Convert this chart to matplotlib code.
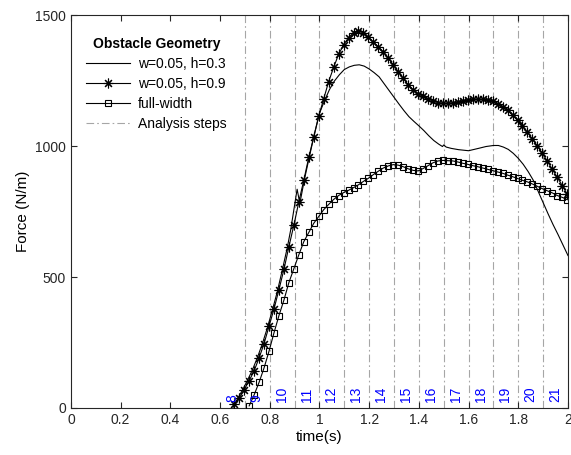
import numpy as np
import matplotlib
matplotlib.use("Agg")
import matplotlib.pyplot as plt
from matplotlib.ticker import FuncFormatter

plt.rcParams['font.family'] = ['Liberation Sans', 'DejaVu Sans']
plt.rcParams['lines.scale_dashes'] = False

# w=0.05, h=0.3 (plain line)
t_plain = [0.653, 0.67, 0.69, 0.71, 0.73, 0.75, 0.77, 0.79, 0.81, 0.83, 0.85, 0.87,
           0.884, 0.910, 0.921, 0.94, 0.96, 0.98, 1.00, 1.02, 1.04, 1.06, 1.08, 1.10,
           1.12, 1.14, 1.16, 1.18, 1.20, 1.22, 1.24, 1.26, 1.28, 1.30, 1.32, 1.34,
           1.36, 1.38, 1.40, 1.42, 1.44, 1.46, 1.48, 1.495, 1.50, 1.51, 1.53, 1.56,
           1.60, 1.64, 1.67, 1.70, 1.72, 1.74, 1.76, 1.78, 1.80, 1.82, 1.84, 1.86,
           1.88, 1.90, 1.92, 1.94, 1.96, 1.98, 2.00]
f_plain = [3, 35, 68, 105, 145, 192, 245, 305, 372, 443, 525, 610,
           679, 835, 781, 875, 962, 1047, 1125, 1172, 1215, 1248, 1272, 1292,
           1302, 1308, 1310, 1305, 1294, 1280, 1264, 1238, 1212, 1186, 1160, 1135,
           1112, 1094, 1077, 1059, 1039, 1021, 1007, 998, 1004, 996, 991, 986,
           982, 991, 998, 1002, 1002, 996, 987, 972, 953, 930, 902, 870,
           827, 784, 741, 700, 662, 622, 582]

# sample times of the marked series
t_star = np.round(0.657 + 0.02 * np.arange(68), 3)
t_square = t_star[3:]

# w=0.05, h=0.9 (asterisks)
f_star = [15, 38, 70, 104, 142, 191, 246, 312, 378, 452, 529, 616, 698, 787, 870,
          957, 1035, 1114, 1180, 1246, 1300, 1350, 1386, 1414, 1432, 1440, 1432,
          1415, 1396, 1378, 1358, 1335, 1310, 1284, 1258, 1234, 1214, 1200, 1189,
          1180, 1172, 1166, 1163, 1163, 1165, 1168, 1173, 1176, 1178, 1179, 1178,
          1175, 1170, 1160, 1148, 1136, 1117, 1098, 1076, 1052, 1027, 1000, 972,
          942, 911, 880, 849, 816]

# full-width (squares)
f_square = [8, 50, 98, 153, 217, 287, 353, 412, 479, 532, 585, 635, 670, 705, 731,
            757, 777, 796, 811, 822, 831, 841, 852, 865, 877, 891, 904, 916, 924,
            929, 927, 921, 913, 907, 905, 914, 925, 936, 943, 945, 944, 943, 939,
            934, 930, 925, 921, 916, 911, 906, 901, 896, 889, 883, 876, 869, 863,
            855, 846, 837, 829, 821, 811, 804, 795]

step_lines = [0.7, 0.8, 0.9, 1.0, 1.1, 1.2, 1.3, 1.4, 1.5, 1.6, 1.7, 1.8, 1.9]
step_labels = list(range(8, 22))
step_label_t = [0.648 + 0.1 * i for i in range(len(step_labels))]

fig = plt.figure(figsize=(5.71, 4.55), dpi=100)
ax = fig.add_axes([0.1243, 0.1033, 0.8704, 0.8637])

dashdot = (0, (5.5, 2.2, 1.2, 2.2))
for i, x in enumerate(step_lines):
    ax.axvline(x, color='#a6a6a6', lw=0.8, ls=dashdot, zorder=1,
               label='Analysis steps' if i == 0 else None)

ax.plot(t_plain, f_plain, color='black', lw=0.8, label='w=0.05, h=0.3', zorder=3)
ax.plot(t_star, f_star, color='black', lw=0.8, marker=(8, 2, 0), ms=7,
        mew=0.8, label='w=0.05, h=0.9', zorder=3)
ax.plot(t_square, f_square, color='black', lw=0.8, marker='s', ms=5,
        mfc='none', mew=0.8, label='full-width', zorder=3)

for lab, x in zip(step_labels, step_label_t):
    ax.text(x, 22, str(lab), color='blue', rotation=90, fontsize=10,
            ha='center', va='bottom', zorder=4)

ax.set_xlim(0, 2)
ax.set_ylim(0, 1500)
ax.set_xticks(np.arange(0, 2.01, 0.2))
ax.set_yticks([0, 500, 1000, 1500])
ax.xaxis.set_major_formatter(FuncFormatter(lambda v, p: '%g' % round(v, 2)))
ax.tick_params(direction='in', top=True, right=True, length=4, width=0.8,
               labelsize=10, colors='#262626')
for s in ax.spines.values():
    s.set_linewidth(0.8)
    s.set_color('#262626')
ax.set_xlabel('time(s)', fontsize=11, labelpad=2)
ax.set_ylabel('Force (N/m)', fontsize=11, labelpad=4)

h, l = ax.get_legend_handles_labels()
order = [1, 2, 3, 0]
leg = ax.legend([h[i] for i in order], [l[i] for i in order],
                loc='upper left', bbox_to_anchor=(0.005, 0.975), frameon=False,
                fontsize=10, title='Obstacle Geometry',
                title_fontproperties={'weight': 'bold', 'size': 10},
                handlelength=3.2, handletextpad=0.55, labelspacing=0.42,
                numpoints=1)

fig.savefig('out.png', dpi=100)
